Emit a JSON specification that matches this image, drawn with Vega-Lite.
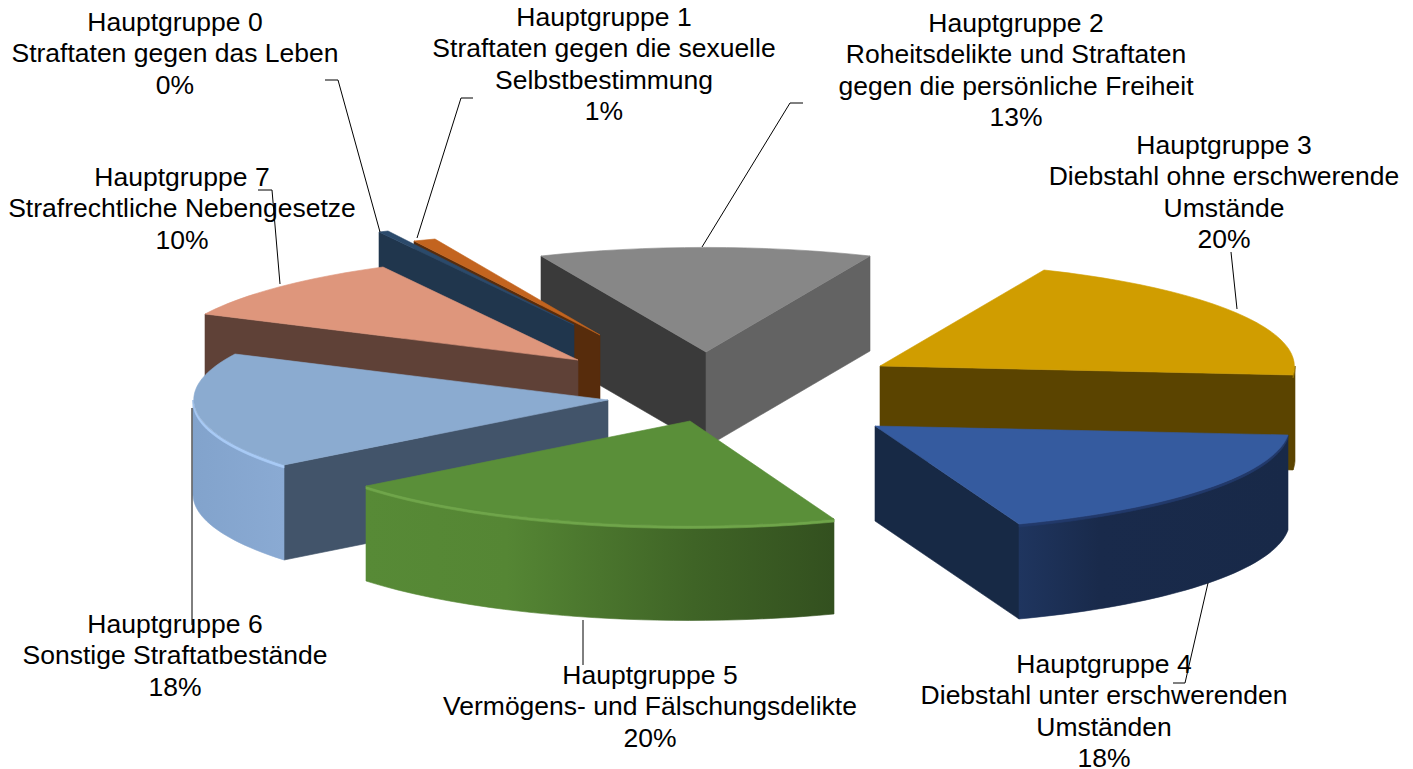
{"$schema":"https://vega.github.io/schema/vega-lite/v6.json","width":1413,"height":769,"padding":0,"autosize":{"type":"none"},"background":"white","config":{"view":{"stroke":null}},
"params":[
{"name":"K","value":0.062644},
{"name":"off","value":[[-132.5,-59.5],[-106.5,-49.5],[-0.5,-32.5],[173.5,-18.5],[168.5,41.5],[-16.5,36.5],[-98.5,15.5],[-128.5,-24.5]]},
{"name":"topC","value":["#2b4a6b","#c3641f","#878787","#d09d00","#355b9f","#5a8f39","#8babd0","#de967c"]},
{"name":"faceA","value":["#20364d","#572c0c","#3a3a3a","#5b4400","#172945","#33501f","#42546a","#5f4137"]},
{"name":"faceB","value":["#20364d","#572c0c","#636363","#5b4400","#172945","#33501f","#42546a","#5f4137"]},
{"name":"wallC","value":["#20364d","#572c0c","#636363","#5b4400",
{"gradient":"linear","x1":0,"y1":0,"x2":1,"y2":0,"stops":[{"offset":0,"color":"#1f355f"},{"offset":0.3,"color":"#192a4b"},{"offset":1,"color":"#182948"}]},
{"gradient":"linear","x1":0,"y1":0,"x2":1,"y2":0,"stops":[{"offset":0,"color":"#578a36"},{"offset":0.3,"color":"#558634"},{"offset":0.7,"color":"#3f6426"},{"offset":1,"color":"#33501f"}]},
{"gradient":"linear","x1":0,"y1":0,"x2":1,"y2":0,"stops":[{"offset":0,"color":"#82a3cc"},{"offset":1,"color":"#8aaad3"}]},
"#5f4137"]},
{"name":"rimC","value":["#20364d","#572c0c","#636363","#9c7600","#22396a","#6fa54a","#a8caf5","#5f4137"]},
{"name":"lead","value":["M-326.5,-152.5L-368.5,-304.5L-381.5,-304.5","M-289.5,-146.5L-245.5,-286.5L-233.5,-286.5","M-4.5,-137.5L83.5,-281.5L96.5,-281.5","M530.5,-75.5L524.5,-132.5","M501.5,198.5L478.5,298.5L466.5,298.5","M-123.5,235.5L-123.5,280.5","M-514.5,23.5L-514.5,240.5","M-426.5,-100.5L-434.5,-194.5L-448.5,-194.5"]},
{"name":"labX","value":[-531.5,-102.5,309.5,517.5,397.5,-56.5,-531.5,-524.5]},
{"name":"labY","value":[-361.5,-366.5,-360.5,-238.5,280.5,291.5,240.5,-206.5]}
],
"data":{"values":[
{"gruppe":2,"anteil":13,"titel":["Hauptgruppe 2","Roheitsdelikte und Straftaten","gegen die persönliche Freiheit","13%"]},
{"gruppe":1,"anteil":0.9,"titel":["Hauptgruppe 1","Straftaten gegen die sexuelle","Selbstbestimmung","1%"]},
{"gruppe":0,"anteil":0.4,"titel":["Hauptgruppe 0","Straftaten gegen das Leben","0%"]},
{"gruppe":7,"anteil":10,"titel":["Hauptgruppe 7","Strafrechtliche Nebengesetze","10%"]},
{"gruppe":6,"anteil":18,"titel":["Hauptgruppe 6","Sonstige Straftatbestände","18%"]},
{"gruppe":5,"anteil":20,"titel":["Hauptgruppe 5","Vermögens- und Fälschungsdelikte","20%"]},
{"gruppe":3,"anteil":20,"titel":["Hauptgruppe 3","Diebstahl ohne erschwerende","Umstände","20%"]},
{"gruppe":4,"anteil":18,"titel":["Hauptgruppe 4","Diebstahl unter erschwerenden","Umständen","18%"]}
]},
"transform":[{"stack":"anteil","groupby":[],"sort":[{"field":"gruppe","order":"ascending"}],"as":["a0","a1"]}],
"layer":[
{"transform":[{"fold":["a","b","wall","rim","top"],"as":["key","unused"]}],
"mark":{"type":"point","filled":true,"opacity":1,"size":4,"strokeWidth":0.6,
"xOffset":{"expr":"off[datum.gruppe][0]"},"yOffset":{"expr":"off[datum.gruppe][1]"},
"fill":{"expr":"datum.key=='top'?topC[datum.gruppe]:datum.key=='a'?faceA[datum.gruppe]:datum.key=='b'?faceB[datum.gruppe]:datum.key=='wall'?wallC[datum.gruppe]:rimC[datum.gruppe]"},
"stroke":{"expr":"datum.key=='top'?topC[datum.gruppe]:datum.key=='a'?faceA[datum.gruppe]:datum.key=='b'?faceB[datum.gruppe]:datum.key=='wall'?wallC[datum.gruppe]:rimC[datum.gruppe]"},
"shape":{"expr":"datum.key=='top'?'M0,0L'+round(415*sin(datum.a0*K-0.49))+','+round(-105*cos(datum.a0*K-0.49))+'A415,105 0 0 1 '+round(415*sin(datum.a1*K-0.49))+','+round(-105*cos(datum.a1*K-0.49))+'Z':datum.key=='a'?(sin(datum.a0*K-0.49)<0?'M0,0L'+round(415*sin(datum.a0*K-0.49))+','+round(-105*cos(datum.a0*K-0.49))+'L'+round(415*sin(datum.a0*K-0.49))+','+(95+round(-105*cos(datum.a0*K-0.49)))+'L0,95Z':'M0,0Z'):datum.key=='b'?(sin(datum.a1*K-0.49)>0?'M0,0L'+round(415*sin(datum.a1*K-0.49))+','+round(-105*cos(datum.a1*K-0.49))+'L'+round(415*sin(datum.a1*K-0.49))+','+(95+round(-105*cos(datum.a1*K-0.49)))+'L0,95Z':'M0,0Z'):(datum.a1*K-0.49>PI/2&&datum.a0*K-0.49<3*PI/2)?'M'+round(415*sin(max(datum.a0*K-0.49,PI/2)))+','+round(-105*cos(max(datum.a0*K-0.49,PI/2)))+'A415,105 0 0 1 '+round(415*sin(min(datum.a1*K-0.49,3*PI/2)))+','+round(-105*cos(min(datum.a1*K-0.49,3*PI/2)))+'L'+round(415*sin(min(datum.a1*K-0.49,3*PI/2)))+','+((datum.key=='rim'?3:95)+round(-105*cos(min(datum.a1*K-0.49,3*PI/2))))+'A415,105 0 0 0 '+round(415*sin(max(datum.a0*K-0.49,PI/2)))+','+((datum.key=='rim'?3:95)+round(-105*cos(max(datum.a0*K-0.49,PI/2))))+'Z':'M0,0Z'"}
},"encoding":{}},
{"mark":{"type":"point","filled":false,"opacity":1,"size":4,"stroke":"black","strokeWidth":1,"fill":"transparent","shape":{"expr":"lead[datum.gruppe]"}},"encoding":{}},
{"mark":{"type":"text","font":"Liberation Sans","fontSize":26.5,"lineHeight":31.3,"align":"center","baseline":"middle","color":"black",
"dx":{"expr":"labX[datum.gruppe]"},"dy":{"expr":"labY[datum.gruppe]"}},
"encoding":{"text":{"field":"titel"}}}
]}
